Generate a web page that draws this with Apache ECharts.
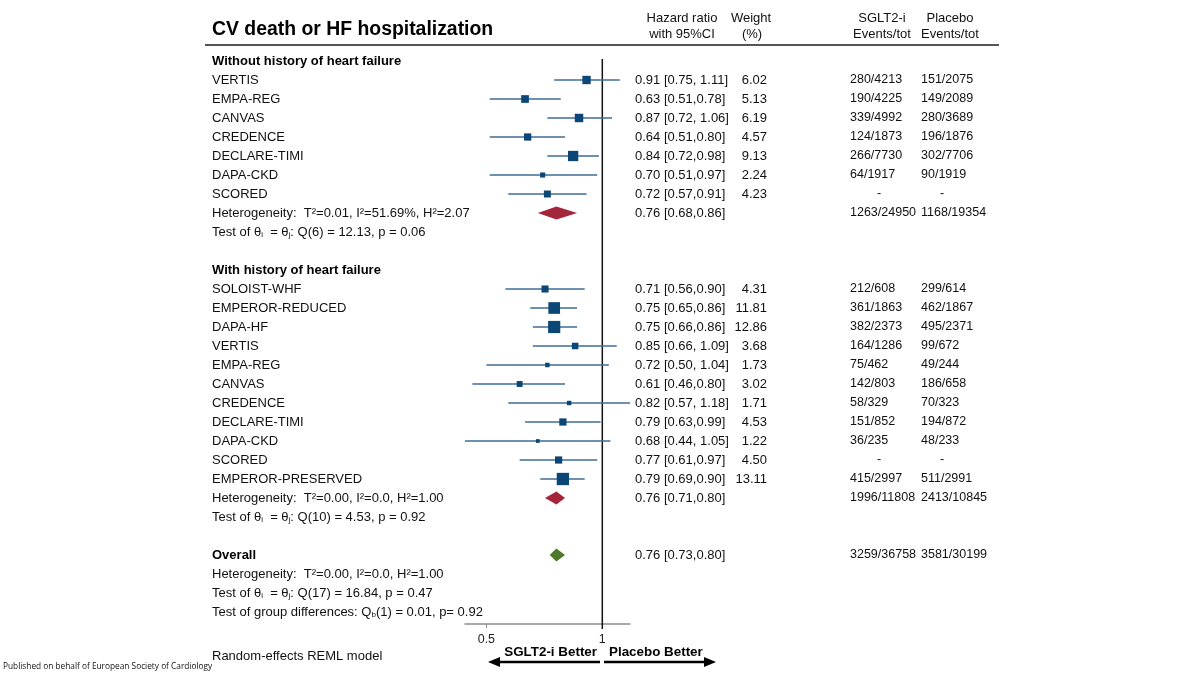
<!DOCTYPE html>
<html>
<head>
<meta charset="utf-8">
<script src="https://cdn.jsdelivr.net/npm/echarts@6/dist/echarts.min.js"></script>
<style>
  body, html { margin: 0; padding: 0; width: 100%; height: 100%; overflow: hidden; background: #fff; }
  #chart { width: 1200px; height: 675px; }
</style>
</head>
<body>
<div id="chart"></div>
<script>
// ---- data ----
var noHfStudies = ['VERTIS', 'EMPA-REG', 'CANVAS', 'CREDENCE', 'DECLARE-TIMI', 'DAPA-CKD', 'SCORED'];
var noHfHR      = [0.91, 0.63, 0.87, 0.64, 0.84, 0.70, 0.72];
var noHfLo      = [0.75, 0.51, 0.72, 0.51, 0.72, 0.51, 0.57];
var noHfHi      = [1.11, 0.78, 1.06, 0.80, 0.98, 0.97, 0.91];
var noHfWeight  = [6.02, 5.13, 6.19, 4.57, 9.13, 2.24, 4.23];
var noHfSglt    = ['280/4213', '190/4225', '339/4992', '124/1873', '266/7730', '64/1917', '-'];
var noHfPlacebo = ['151/2075', '149/2089', '280/3689', '196/1876', '302/7706', '90/1919', '-'];
var noHfPooled  = [0.76, 0.68, 0.86];
var noHfPooledEvents = ['1263/24950', '1168/19354'];

var hfStudies = ['SOLOIST-WHF', 'EMPEROR-REDUCED', 'DAPA-HF', 'VERTIS', 'EMPA-REG', 'CANVAS',
                 'CREDENCE', 'DECLARE-TIMI', 'DAPA-CKD', 'SCORED', 'EMPEROR-PRESERVED'];
var hfHR      = [0.71, 0.75, 0.75, 0.85, 0.72, 0.61, 0.82, 0.79, 0.68, 0.77, 0.79];
var hfLo      = [0.56, 0.65, 0.66, 0.66, 0.50, 0.46, 0.57, 0.63, 0.44, 0.61, 0.69];
var hfHi      = [0.90, 0.86, 0.86, 1.09, 1.04, 0.80, 1.18, 0.99, 1.05, 0.97, 0.90];
var hfWeight  = [4.31, 11.81, 12.86, 3.68, 1.73, 3.02, 1.71, 4.53, 1.22, 4.50, 13.11];
var hfSglt    = ['212/608', '361/1863', '382/2373', '164/1286', '75/462', '142/803',
                 '58/329', '151/852', '36/235', '-', '415/2997'];
var hfPlacebo = ['299/614', '462/1867', '495/2371', '99/672', '49/244', '186/658',
                 '70/323', '194/872', '48/233', '-', '511/2991'];
var hfPooled  = [0.76, 0.71, 0.80];
var hfPooledEvents = ['1996/11808', '2413/10845'];

var overallPooled = [0.76, 0.73, 0.80];
var overallEvents = ['3259/36758', '3581/30199'];

var noHfStats    = ['Heterogeneity:  T\u00b2=0.01, I\u00b2=51.69%, H\u00b2=2.07',
                    'Test of \u03b8{sub|i}  = \u03b8{sub|j}: Q(6) = 12.13, p = 0.06'];
var hfStats      = ['Heterogeneity:  T\u00b2=0.00, I\u00b2=0.0, H\u00b2=1.00',
                    'Test of \u03b8{sub|i}  = \u03b8{sub|j}: Q(10) = 4.53, p = 0.92'];
var overallStats = ['Heterogeneity:  T\u00b2=0.00, I\u00b2=0.0, H\u00b2=1.00',
                    'Test of \u03b8{sub|i}  = \u03b8{sub|j}: Q(17) = 16.84, p = 0.47',
                    'Test of group differences: Q{sub|b}(1) = 0.01, p= 0.92'];

var xTicks = [0.5, 1];
var xRange = [0.44, 1.18];

// ---- build table rows ----
var FONT = '"Liberation Sans", Arial, Helvetica, sans-serif';
var rows = [];

function ciText(est, lo, hi) {
  return est.toFixed(2) + ' [' + lo.toFixed(2) + (hi >= 1 ? ', ' : ',') + hi.toFixed(2) + ']';
}
function evText(s, dashStyle) {
  return s === '-' ? '{' + dashStyle + '|-}' : s;
}

function addGroup(title, names, hr, lo, hi, wt, sg, pl, pooled, pooledEv, stats) {
  rows.push({ label: '{b|' + title + '}' });
  names.forEach(function (n, i) {
    rows.push({
      label: n, hr: ciText(hr[i], lo[i], hi[i]), wt: wt[i].toFixed(2),
      sg: evText(sg[i], 'dS'), pl: evText(pl[i], 'dP'),
      study: { est: hr[i], lo: lo[i], hi: hi[i], w: wt[i] }
    });
  });
  rows.push({
    label: stats[0], hr: ciText(pooled[0], pooled[1], pooled[2]),
    sg: pooledEv[0], pl: pooledEv[1],
    pooled: { est: pooled[0], lo: pooled[1], hi: pooled[2], color: '#a3263b' }
  });
  rows.push({ label: stats[1] });
  rows.push({});
}
addGroup('Without history of heart failure', noHfStudies, noHfHR, noHfLo, noHfHi, noHfWeight,
         noHfSglt, noHfPlacebo, noHfPooled, noHfPooledEvents, noHfStats);
addGroup('With history of heart failure', hfStudies, hfHR, hfLo, hfHi, hfWeight,
         hfSglt, hfPlacebo, hfPooled, hfPooledEvents, hfStats);
rows.push({
  label: '{b|Overall}', hr: ciText(overallPooled[0], overallPooled[1], overallPooled[2]),
  sg: overallEvents[0], pl: overallEvents[1],
  pooled: { est: overallPooled[0], lo: overallPooled[1], hi: overallPooled[2], color: '#4d7a2a' }
});
overallStats.forEach(function (s) { rows.push({ label: s }); });

var ln = Math.log;
var ciData = [], squareData = [], diamondData = [];
rows.forEach(function (r, i) {
  if (r.study) {
    ciData.push([ln(r.study.lo), ln(r.study.hi), i]);
    squareData.push([ln(r.study.est), i, r.study.w]);
  }
  if (r.pooled) {
    diamondData.push({ value: [ln(r.pooled.lo), ln(r.pooled.est), ln(r.pooled.hi), i],
                       itemStyle: { color: r.pooled.color } });
  }
});

// ---- layout ----
var GRID_TOP = 51.5, GRID_BOTTOM_Y = 624, ROW_H = 19;
var yMin = -0.5, yMax = yMin + (GRID_BOTTOM_Y - GRID_TOP) / ROW_H;

var rich = {
  b:   { fontFamily: FONT, fontSize: 13, fontWeight: 'bold', color: '#000' },
  sub: { fontFamily: FONT, fontSize: 8, padding: [6, 0, 0, 0], color: '#111' },
  dS:  { fontFamily: FONT, fontSize: 12.5, padding: [0, 0, 0, 27], color: '#111' },
  dP:  { fontFamily: FONT, fontSize: 12.5, padding: [0, 0, 0, 19], color: '#111' }
};

function textAxis(field, position, offset, align, fontSize) {
  var idx = [];
  rows.forEach(function (r, i) { if (r[field]) idx.push(i); });
  return {
    type: 'value', inverse: true, min: yMin, max: yMax, position: position, offset: offset,
    axisLine: { show: false, onZero: false }, axisTick: { show: false }, splitLine: { show: false },
    axisLabel: {
      customValues: idx, margin: 0, align: align, fontFamily: FONT, fontSize: fontSize,
      color: '#111', rich: rich,
      formatter: function (v) { return rows[Math.round(v)][field]; }
    }
  };
}

var chart = echarts.init(document.getElementById('chart'), null, { renderer: 'canvas' });

chart.setOption({
  animation: false,
  backgroundColor: '#fff',
  textStyle: { fontFamily: FONT },
  grid: { left: 465, right: 570, top: GRID_TOP, bottom: 675 - GRID_BOTTOM_Y, outerBoundsMode: 'none' },
  xAxis: {
    type: 'value', min: ln(xRange[0]), max: ln(xRange[1]), position: 'bottom',
    axisLine: { onZero: false, lineStyle: { color: '#8c8c8c', width: 1.5 } },
    axisTick: { customValues: xTicks.map(ln), length: 4, lineStyle: { color: '#8c8c8c' } },
    splitLine: { show: false },
    axisLabel: {
      customValues: xTicks.map(ln), margin: 9, fontFamily: FONT, fontSize: 12.5, color: '#222',
      formatter: function (v) { return String(+Math.exp(v).toFixed(2)); }
    }
  },
  yAxis: [
    textAxis('label', 'left', 253, 'left', 13),
    textAxis('hr', 'right', 5, 'left', 13),
    textAxis('wt', 'right', 137, 'right', 13),
    textAxis('sg', 'right', 220, 'left', 12.5),
    textAxis('pl', 'right', 291, 'left', 12.5)
  ],
  series: [
    {
      // line of no effect (HR = 1)
      type: 'custom', silent: true, z: 1,
      data: [[0, -0.1, rows.length - 0.1]],
      encode: { x: 0, y: [1, 2] },
      renderItem: function (params, api) {
        var a = api.coord([api.value(0), api.value(1)]);
        var b = api.coord([api.value(0), api.value(2)]);
        return { type: 'line', shape: { x1: a[0], y1: a[1], x2: b[0], y2: b[1] },
                 style: { stroke: '#111', lineWidth: 1.5 } };
      }
    },
    {
      // confidence intervals
      type: 'custom', silent: true, z: 2,
      data: ciData,
      encode: { x: [0, 1], y: 2 },
      renderItem: function (params, api) {
        var a = api.coord([api.value(0), api.value(2)]);
        var b = api.coord([api.value(1), api.value(2)]);
        return { type: 'line', shape: { x1: a[0], y1: a[1], x2: b[0], y2: b[1] },
                 style: { stroke: '#3e6d95', lineWidth: 1.3 } };
      }
    },
    {
      // study estimates, box area proportional to weight
      type: 'scatter', silent: true, z: 3,
      data: squareData,
      symbol: 'rect',
      symbolSize: function (v) { return 3.4 * Math.sqrt(v[2]); },
      itemStyle: { color: '#0c4677', opacity: 1 },
      encode: { x: 0, y: 1 }
    },
    {
      // pooled estimates
      type: 'custom', silent: true, z: 3,
      data: diamondData,
      encode: { x: [0, 1, 2], y: 3 },
      renderItem: function (params, api) {
        var y = api.value(3), h = 6.5;
        var lo = api.coord([api.value(0), y]);
        var mid = api.coord([api.value(1), y]);
        var hi = api.coord([api.value(2), y]);
        return {
          type: 'polygon',
          shape: { points: [[lo[0], lo[1]], [mid[0], mid[1] - h], [hi[0], hi[1]], [mid[0], mid[1] + h]] },
          style: { fill: api.visual('color') }
        };
      }
    }
  ],
  graphic: [
    { type: 'text', x: 212, y: 30, style: { text: 'CV death or HF hospitalization', font: 'bold 19.4px ' + FONT,
      fill: '#000', textAlign: 'left', textVerticalAlign: 'middle' } },
    { type: 'line', shape: { x1: 205, y1: 45, x2: 999, y2: 45 }, style: { stroke: '#555', lineWidth: 2 } },
    { type: 'text', x: 682, y: 18, style: { text: 'Hazard ratio', font: '13px ' + FONT, fill: '#111', textAlign: 'center', textVerticalAlign: 'middle' } },
    { type: 'text', x: 682, y: 34, style: { text: 'with 95%CI', font: '13px ' + FONT, fill: '#111', textAlign: 'center', textVerticalAlign: 'middle' } },
    { type: 'text', x: 751, y: 18, style: { text: 'Weight', font: '13px ' + FONT, fill: '#111', textAlign: 'center', textVerticalAlign: 'middle' } },
    { type: 'text', x: 752, y: 34, style: { text: '(%)', font: '13px ' + FONT, fill: '#111', textAlign: 'center', textVerticalAlign: 'middle' } },
    { type: 'text', x: 882, y: 18, style: { text: 'SGLT2-i', font: '13px ' + FONT, fill: '#111', textAlign: 'center', textVerticalAlign: 'middle' } },
    { type: 'text', x: 882, y: 34, style: { text: 'Events/tot', font: '13px ' + FONT, fill: '#111', textAlign: 'center', textVerticalAlign: 'middle' } },
    { type: 'text', x: 950, y: 18, style: { text: 'Placebo', font: '13px ' + FONT, fill: '#111', textAlign: 'center', textVerticalAlign: 'middle' } },
    { type: 'text', x: 950, y: 34, style: { text: 'Events/tot', font: '13px ' + FONT, fill: '#111', textAlign: 'center', textVerticalAlign: 'middle' } },
    { type: 'text', x: 597, y: 652, style: { text: 'SGLT2-i Better', font: 'bold 13.4px ' + FONT, fill: '#000', textAlign: 'right', textVerticalAlign: 'middle' } },
    { type: 'text', x: 609, y: 652, style: { text: 'Placebo Better', font: 'bold 13.4px ' + FONT, fill: '#000', textAlign: 'left', textVerticalAlign: 'middle' } },
    { type: 'line', shape: { x1: 600, y1: 662, x2: 497, y2: 662 }, style: { stroke: '#000', lineWidth: 2.5 } },
    { type: 'polygon', shape: { points: [[488, 662], [500, 657], [500, 667]] }, style: { fill: '#000' } },
    { type: 'line', shape: { x1: 604, y1: 662, x2: 707, y2: 662 }, style: { stroke: '#000', lineWidth: 2.5 } },
    { type: 'polygon', shape: { points: [[716, 662], [704, 657], [704, 667]] }, style: { fill: '#000' } },
    { type: 'text', x: 212, y: 656, style: { text: 'Random-effects REML model', font: '13px ' + FONT, fill: '#111', textAlign: 'left', textVerticalAlign: 'middle' } },
    { type: 'text', x: 3, y: 667, style: { text: 'Published on behalf of European Society of Cardiology', font: '8.3px "Open Sans", sans-serif', fill: '#111', textAlign: 'left', textVerticalAlign: 'middle' } }
  ]
});
</script>
</body>
</html>
